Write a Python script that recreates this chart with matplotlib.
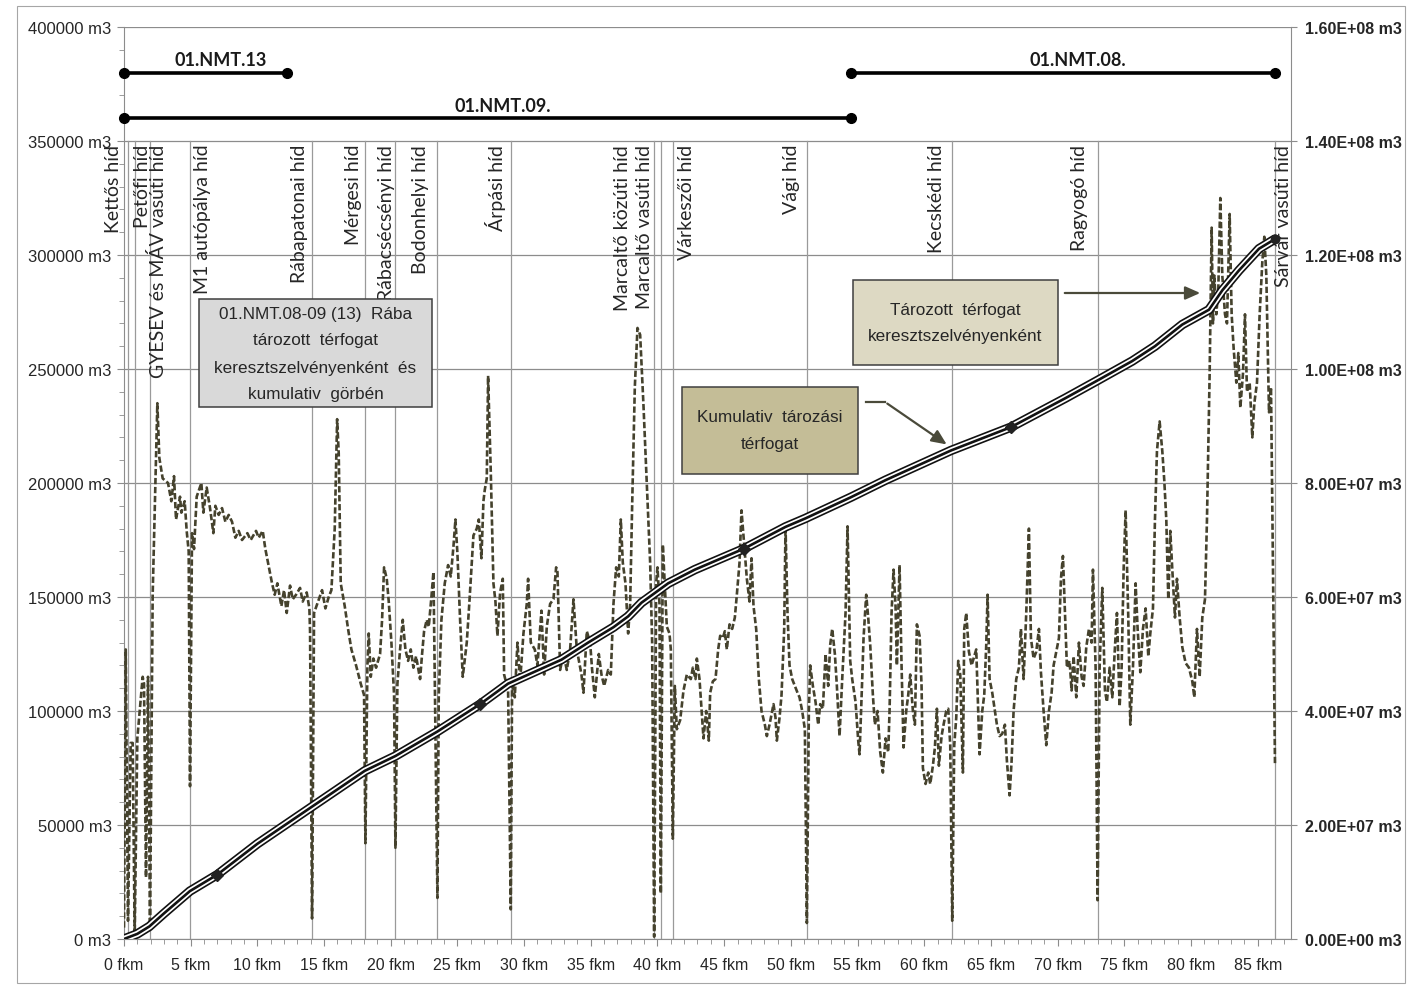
import numpy as np
import matplotlib
matplotlib.use('Agg')
import matplotlib.pyplot as plt
from matplotlib import font_manager
from matplotlib.patches import Rectangle, FancyArrowPatch
from matplotlib.ticker import MultipleLocator, FuncFormatter

# cross-section storage volume along the river [fkm, m3]
km = [0.0, 0.13, 0.3, 0.5, 0.65, 0.8, 1.0, 1.4, 1.5, 1.65, 1.8, 1.95, 2.15, 2.5, 2.65, 2.9,
      3.3, 3.55, 3.75, 3.9, 4.2, 4.3, 4.55, 4.7, 4.85, 4.95, 5.1, 5.25, 5.45, 5.8, 5.95,
      6.2, 6.45, 6.7, 6.85, 7.1, 7.35, 7.6, 7.85, 8.1, 8.35, 8.6, 8.85, 9.25, 9.5, 9.9,
      10.1, 10.4, 10.6, 10.9, 11.1, 11.3, 11.5, 11.8, 12.0, 12.2, 12.45, 12.65, 12.9,
      13.2, 13.4, 13.7, 13.9, 13.95, 14.1, 14.25, 14.55, 14.85, 15.1, 15.35, 15.55, 15.8,
      15.98, 16.1, 16.25, 16.55, 16.8, 17.05, 17.4, 17.75, 18.0, 18.1, 18.25, 18.35, 18.5,
      18.7, 18.9, 19.2, 19.35, 19.5, 19.7, 19.85, 20.05, 20.25, 20.35, 20.5, 20.7, 20.9,
      21.1, 21.3, 21.5, 21.7, 21.9, 22.2, 22.35, 22.5, 22.7, 22.85, 23.05, 23.2, 23.3,
      23.5, 23.6, 23.8, 24.05, 24.3, 24.5, 24.7, 24.85, 25.0, 25.2, 25.4, 25.7, 25.9,
      26.2, 26.45, 26.6, 26.8, 26.95, 27.05, 27.2, 27.3, 27.5, 27.7, 27.85, 28.0, 28.2,
      28.4, 28.5, 28.8, 29.0, 29.1, 29.3, 29.5, 29.7, 29.95, 30.2, 30.3, 30.5, 30.8, 31.0,
      31.3, 31.5, 31.7, 31.95, 32.2, 32.4, 32.5, 32.7, 32.95, 33.2, 33.45, 33.7, 33.95,
      34.3, 34.45, 34.7, 34.95, 35.1, 35.3, 35.6, 35.8, 36.0, 36.3, 36.5, 36.7, 36.9,
      37.1, 37.25, 37.4, 37.6, 37.8, 37.95, 38.1, 38.3, 38.5, 38.7, 38.95, 39.2, 39.45,
      39.6, 39.75, 39.9, 40.0, 40.15, 40.25, 40.4, 40.5, 40.7, 40.9, 41.0, 41.15, 41.3,
      41.45, 41.7, 41.95, 42.2, 42.5, 42.65, 42.85, 42.95, 43.15, 43.35, 43.45, 43.65,
      43.85, 43.95, 44.15, 44.35, 44.55, 44.7, 44.9, 45.05, 45.2, 45.4, 45.6, 45.8, 45.95,
      46.15, 46.3, 46.5, 46.7, 46.9, 47.05, 47.2, 47.4, 47.6, 47.8, 48.05, 48.2, 48.4,
      48.6, 48.7, 48.85, 48.95, 49.15, 49.3, 49.5, 49.6, 49.75, 49.9, 50.1, 50.3, 50.5,
      50.65, 50.85, 51.05, 51.2, 51.35, 51.45, 51.65, 51.85, 52.05, 52.2, 52.4, 52.6,
      52.8, 52.95, 53.1, 53.3, 53.45, 53.65, 53.85, 54.1, 54.25, 54.45, 54.6, 54.85,
      55.05, 55.15, 55.35, 55.45, 55.65, 55.8, 55.95, 56.15, 56.3, 56.5, 56.7, 56.9,
      57.1, 57.3, 57.4, 57.55, 57.7, 57.85, 57.95, 58.15, 58.3, 58.45, 58.65, 58.8,
      58.95, 59.15, 59.3, 59.45, 59.65, 59.8, 59.9, 60.1, 60.3, 60.45, 60.65, 60.8,
      60.95, 61.1, 61.3, 61.45, 61.65, 61.8, 61.95, 62.1, 62.25, 62.4, 62.55, 62.7,
      62.9, 63.0, 63.15, 63.35, 63.55, 63.7, 63.9, 64.05, 64.15, 64.35, 64.5, 64.65,
      64.75, 64.9, 65.1, 65.3, 65.45, 65.65, 65.85, 66.05, 66.2, 66.4, 66.55, 66.7,
      66.9, 67.1, 67.25, 67.45, 67.65, 67.85, 68.0, 68.2, 68.4, 68.6, 68.75, 68.95,
      69.15, 69.35, 69.55, 69.7, 69.9, 70.1, 70.25, 70.4, 70.55, 70.7, 70.9, 71.05,
      71.2, 71.4, 71.6, 71.8, 71.95, 72.15, 72.35, 72.55, 72.65, 72.85, 73.0, 73.15,
      73.35, 73.55, 73.7, 73.9, 74.1, 74.3, 74.45, 74.65, 74.8, 74.95, 75.1, 75.3,
      75.45, 75.65, 75.85, 76.0, 76.2, 76.4, 76.6, 76.8, 76.95, 77.15, 77.3, 77.45,
      77.65, 77.85, 78.0, 78.15, 78.3, 78.45, 78.6, 78.8, 78.95, 79.15, 79.35, 79.6,
      79.85, 80.1, 80.25, 80.45, 80.65, 80.85, 81.05, 81.2, 81.4, 81.55, 81.65, 81.75,
      81.9, 82.05, 82.2, 82.35, 82.55, 82.7, 82.9, 83.05, 83.2, 83.4, 83.55, 83.7, 83.9,
      84.05, 84.2, 84.4, 84.6, 84.75, 84.95, 85.15, 85.35, 85.5, 85.65, 85.85, 86.0,
      86.15, 86.3]
terfogat = [5, 127, 8, 86, 86, 2, 88, 115, 112, 27, 115, 4, 151, 235, 211, 202,
            200, 192, 203, 184, 194, 187, 192, 179, 170, 67, 178, 171, 194, 200, 187,
            198, 189, 178, 190, 186, 189, 183, 186, 183, 176, 179, 175, 178, 175, 179,
            176, 179, 171, 162, 156, 151, 156, 146, 153, 143, 155, 149, 151,
            154, 148, 152, 145, 135, 9, 143, 148, 153, 145, 150, 153, 180,
            228, 213, 156, 146, 136, 127, 120, 112, 107, 42, 120, 134, 115,
            123, 119, 125, 140, 163, 158, 148, 130, 107, 40, 112, 127, 140,
            127, 122, 127, 119, 124, 114, 125, 135, 140, 137, 150, 161, 115,
            18, 107, 140, 156, 164, 159, 172, 184, 169, 140, 115, 130, 148,
            177, 180, 184, 167, 192, 197, 202, 247, 205, 156, 148, 133, 152,
            158, 116, 109, 13, 113, 106, 130, 113, 134, 147, 158, 130, 127, 120,
            144, 116, 137, 147, 149, 163, 161, 118, 125, 118, 127, 149, 127,
            116, 108, 135, 130, 118, 106, 125, 116, 111, 118, 116, 147, 163,
            159, 184, 165, 156, 134, 147, 190, 242, 268, 265, 234, 199, 165,
            130, 1, 156, 163, 147, 20, 173, 161, 137, 134, 127, 44, 111,
            92, 96, 109, 116, 114, 119, 114, 123, 114, 97, 88, 100,
            87, 108, 113, 114, 127, 133, 132, 135, 127, 138, 136, 141, 151,
            165, 188, 173, 158, 148, 167, 146, 136, 114, 100, 94, 89, 94,
            100, 103, 97, 87, 97, 107, 136, 181, 143, 120, 114, 111, 108,
            106, 100, 92, 7, 100, 120, 111, 104, 94, 103, 101, 125,
            111, 129, 136, 125, 111, 89, 114, 143, 181, 122, 114, 104,
            87, 81, 114, 132, 151, 141, 129, 107, 94, 100, 82, 73,
            88, 82, 100, 143, 162, 146, 120, 164, 120, 84, 100, 107,
            116, 100, 94, 138, 133, 111, 75, 68, 73, 68, 76, 84,
            101, 76, 89, 94, 100, 101, 85, 8, 85, 97, 122, 116,
            73, 136, 143, 126, 120, 123, 127, 100, 81, 100, 107, 129,
            151, 114, 108, 100, 94, 89, 90, 94, 78, 63, 78, 100,
            114, 119, 136, 114, 143, 180, 132, 123, 126, 136, 117, 100,
            85, 100, 108, 120, 126, 132, 158, 168, 143, 119, 122, 109,
            124, 106, 130, 115, 111, 128, 136, 130, 162, 119, 17, 119,
            154, 109, 104, 119, 106, 128, 143, 102, 119, 162, 188, 141,
            94, 119, 156, 136, 117, 136, 145, 124, 134, 145, 184, 214,
            227, 214, 201, 184, 149, 179, 162, 141, 158, 141, 128, 121,
            119, 113, 106, 136, 115, 141, 149, 184, 248, 312, 270, 291,
            274, 285, 325, 291, 274, 270, 318, 274, 259, 244, 257, 233, 248,
            274, 240, 244, 220, 235, 244, 274, 297, 308, 291, 231, 242,
            162, 76]
terfogat = [v * 1000 for v in terfogat]

# cumulative storage volume [fkm, m3]
kum_km = [0, 1, 1.9, 3, 4.94, 7, 10, 14.4, 18.05, 20.35, 23.5, 26.7, 28.8, 32.8, 34.8,
          36.7, 37.8, 38.8, 39.8, 40.8, 42.8, 46.5, 49.6, 51.1, 54.5, 57.1, 62, 66.5,
          70.6, 73, 75.6, 77.3, 79.35, 81.35, 82.35, 83.6, 85.1, 86.3]
kum_terfogat = [0, 0.9, 2.2, 4.5, 8.4, 11.3, 16.7, 23.7, 29.5, 32.1, 36.4, 41.2, 44.8,
                49.0, 52.0, 54.7, 56.6, 59.0, 60.7, 62.4, 64.8, 68.5, 72.3, 73.8, 77.5,
                80.5, 85.7, 89.8, 94.9, 98.0, 101.4, 104.0, 107.8, 110.4, 113.8, 117.3,
                121.1, 122.8]
kum_terfogat = [v * 1e6 for v in kum_terfogat]
kum_jelolo_km = [7, 26.7, 46.5, 66.5]

# bridges
hidak = ['Kettős híd', 'Petőfi híd', 'GYESEV és MÁV vasúti híd', 'M1 autópálya híd',
         'Rábapatonai híd', 'Mérgesi híd', 'Rábacsécsényi híd', 'Bodonhelyi híd',
         'Árpási híd', 'Marcaltő közúti híd', 'Marcaltő vasúti híd', 'Várkeszői híd',
         'Vági híd', 'Kecskédi híd', 'Ragyogó híd', 'Sárvár vasúti híd']
hid_km = [0.3, 0.8, 1.95, 4.95, 14.1, 18.1, 20.35, 23.5, 29.0, 39.75, 40.25, 41.15,
          51.2, 62.1, 73.0, 86.3]
# label shift from the bridge line, in pixels
hid_cimke_eltolas = [-15, 8, 8, 12, -13, -12, -9, -17, -15, -32, -16, 14, -15, -16, -18, 9]

# water body sections
szakaszok = ['01.NMT.13', '01.NMT.09.', '01.NMT.08.']
szakasz_tol = [0, 0, 54.5]
szakasz_ig = [12.2, 54.5, 86.3]
szakasz_szint = [380000, 360000, 380000]

W, H = 1408, 987

def fx(x):
    return x / W

def fy(y):
    return 1 - y / H

names = {f.name for f in font_manager.fontManager.ttflist}
label_font = 'Lato' if 'Lato' in names else 'DejaVu Sans'
tick_font = 'Liberation Sans'

olive = '#45422d'
grid_c = '#8c8c8c'
text_c = '#262626'

fig = plt.figure(figsize=(W / 100, H / 100), dpi=100)
fig.patches.append(Rectangle((fx(17), fy(984)), fx(1405) - fx(17), fy(7) - fy(984),
                             transform=fig.transFigure, fill=False, ec='#a6a6a6', lw=0.8))

ax = fig.add_axes([fx(124), fy(940), fx(1291) - fx(124), fy(28) - fy(940)])
ax.set_xlim(0, 87.5)
ax.set_ylim(0, 400000)

ax.yaxis.set_major_locator(MultipleLocator(50000))
ax.yaxis.set_minor_locator(MultipleLocator(10000))
ax.xaxis.set_major_locator(MultipleLocator(5))
ax.xaxis.set_minor_locator(MultipleLocator(1))
ax.yaxis.set_major_formatter(FuncFormatter(lambda v, p: '%d m3' % v))
ax.xaxis.set_major_formatter(FuncFormatter(lambda v, p: '%d fkm' % v))
ax.tick_params(which='both', direction='out', color=grid_c)
ax.tick_params(which='major', length=5, pad=4)
ax.tick_params(axis='x', which='major', pad=8)
ax.tick_params(which='minor', length=3.5)
for lab in ax.get_yticklabels():
    lab.set_family(tick_font)
    lab.set_size(12)
    lab.set_color(text_c)
for lab in ax.get_xticklabels():
    lab.set_family(tick_font)
    lab.set_size(11.5)
    lab.set_color(text_c)
for s in ['left', 'bottom']:
    ax.spines[s].set_color(grid_c)
for s in ['top', 'right']:
    ax.spines[s].set_visible(False)
ax.grid(axis='y', which='major', color=grid_c, lw=0.9)
ax.set_axisbelow(True)

# bridge lines and labels
for name, k, off in zip(hidak, hid_km, hid_cimke_eltolas):
    ax.plot([k, k], [0, 350000], color='#9a9a9a', lw=0.9, zorder=1)
    ax.annotate(name, xy=(k, 350000), xytext=(off * 0.72, -2), textcoords='offset points',
                rotation=90, ha='center', va='top', fontsize=14, family=label_font,
                color=text_c, zorder=3)

# section bars
for name, a, b, lvl in zip(szakaszok, szakasz_tol, szakasz_ig, szakasz_szint):
    ax.plot([a, b], [lvl, lvl], color='black', lw=2.6, marker='o', ms=7,
            solid_capstyle='butt', clip_on=False, zorder=5)
    ax.annotate(name, xy=((a + b) / 2, lvl), xytext=(11, 3), textcoords='offset points',
                ha='center', va='bottom', fontsize=13, fontweight='bold',
                family=label_font, color='#1a1a1a')

ax.plot(km, terfogat, color=olive, lw=1.9, ls=(0, (2.4, 1.0)), zorder=4)

ax2 = ax.twinx()
ax2.set_ylim(0, 1.6e8)
ax2.yaxis.set_major_locator(MultipleLocator(2e7))

def sci_label(v, pos):
    if v <= 0:
        return '0.00E+00 m3'
    e = int(np.floor(np.log10(v)))
    return '%.2fE+%02d m3' % (v / 10 ** e, e)

ax2.yaxis.set_major_formatter(FuncFormatter(sci_label))
ax2.tick_params(axis='y', direction='out', length=4, color=grid_c, pad=6)
for lab in ax2.get_yticklabels():
    lab.set_family(tick_font)
    lab.set_size(11.5)
    lab.set_weight('bold')
    lab.set_color(text_c)
for s in ['left', 'top', 'bottom']:
    ax2.spines[s].set_visible(False)
ax2.spines['right'].set_color(grid_c)

# cumulative curve: triple line
for c, w, z in [('#111111', 6.8, 6), ('white', 4.4, 7), ('#111111', 1.9, 8)]:
    ax2.plot(kum_km, kum_terfogat, color=c, lw=w, solid_joinstyle='round',
             solid_capstyle='round', zorder=z)
ax2.plot(kum_jelolo_km, np.interp(kum_jelolo_km, kum_km, kum_terfogat), ls='none',
         marker='D', ms=6, color='#222222', zorder=9)
ax2.plot(kum_km[-1], kum_terfogat[-1], ls='none', marker='o', ms=6, color='#222222', zorder=9)

# text boxes
def doboz(x0, y0, x1, y1, fc, lines, ys, size=12.3):
    fig.patches.append(Rectangle((fx(x0), fy(y1)), fx(x1) - fx(x0), fy(y0) - fy(y1),
                                 transform=fig.transFigure, fc=fc, ec='#3f3f3f',
                                 lw=1.1, zorder=10))
    for t, y in zip(lines, ys):
        fig.text(fx((x0 + x1) / 2), fy(y), t, ha='center', va='center', fontsize=size,
                 family=tick_font, color=text_c, zorder=11)

doboz(199, 300, 432, 408, '#d9d9d9',
      ['01.NMT.08-09 (13)  Rába', 'tározott  térfogat', 'keresztszelvényenként  és',
       'kumulativ  görbén'], [315, 341, 368, 395])
doboz(682, 388, 858, 475, '#c4bd97', ['Kumulativ  tározási', 'térfogat'], [418, 445])
doboz(853, 281, 1058, 366, '#ddd9c3', ['Tározott  térfogat', 'keresztszelvényenként'],
      [311, 337])

arrow_c = '#4a4a3a'
fig.add_artist(plt.Line2D([fx(866), fx(885)], [fy(403), fy(403)],
                          transform=fig.transFigure, color=arrow_c, lw=1.6))
for p0, p1 in [((885, 403), (949, 447)), ((1062, 294), (1203, 294))]:
    fig.add_artist(FancyArrowPatch((fx(p0[0]), fy(p0[1])), (fx(p1[0]), fy(p1[1])),
                                   transform=fig.transFigure,
                                   arrowstyle='-|>,head_length=9,head_width=4',
                                   color=arrow_c, lw=1.6, zorder=12))

fig.savefig('out.png', dpi=100)
